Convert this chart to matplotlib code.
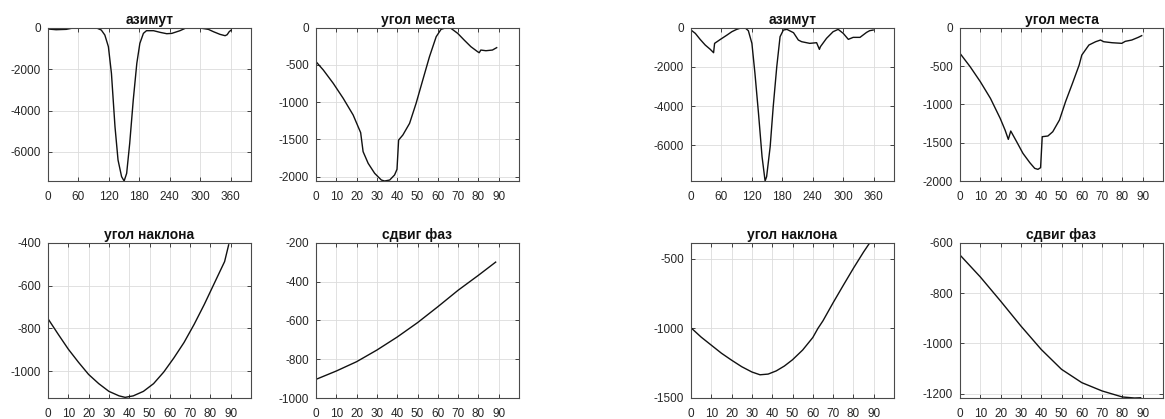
import numpy as np
import matplotlib.pyplot as plt

# data
az_x_left = [0, 16, 36, 49, 76, 96, 105, 112, 119, 125, 132, 138, 145, 150, 155, 161, 168, 175,
             181, 188, 194, 208, 221, 234, 244, 260, 273, 287, 300, 316, 326, 339, 349, 353, 357, 361]
az_y_left = [-64, -97, -80, -16, 0, -16, -113, -354, -917, -2204, -4779, -6388, -7190, -7400, -7030,
             -5583, -3490, -1720, -756, -273, -145, -145, -225, -290, -274, -145, 0, 0, -16, -80,
             -193, -322, -386, -338, -193, -113]

el_x_left = [0, 3.6, 8.5, 13.4, 18.3, 22, 23.2, 25.7, 28.9, 32.2, 33.8, 36.3, 38.7, 39.9, 40.7, 42.8,
             46.1, 49.3, 52.6, 55.9, 59.2, 61.6, 64.1, 66.5, 69.8, 73, 76.3, 79.6, 80.4, 81.2, 83.7,
             86.9, 89]
el_y_left = [-456, -568, -747, -948, -1172, -1409, -1664, -1821, -1955, -2045, -2058, -2045, -1977,
             -1901, -1508, -1440, -1284, -1016, -702, -389, -121, -22, 0, -9, -76, -166, -255, -322,
             -336, -300, -309, -300, -268]

tilt_x_left = [0, 5, 10, 15, 20, 25, 30, 35, 38, 42, 47, 52, 57, 62, 67, 72, 77, 82, 87, 89]
tilt_y_left = [-755, -827, -897, -958, -1015, -1058, -1094, -1115, -1122, -1115, -1094, -1058, -1004,
               -938, -866, -781, -688, -588, -488, -410]

ph_x_left = [0, 10, 20, 30, 40, 50, 60, 70, 80, 88.5]
ph_y_left = [-904, -861, -813, -753, -686, -612, -530, -445, -368, -300]

az_x_right = [0, 8.5, 18, 28, 38, 44.5, 46.5, 58, 71, 80.5, 90, 100, 107, 113, 120, 126, 133, 140,
              146, 149, 156, 162, 169, 175.5, 182, 189, 202, 211.5, 218, 234, 247.5, 253, 255, 267,
              280, 290, 300, 310, 319.5, 333, 346, 352, 359]
az_y_right = [-119, -289, -595, -884, -1105, -1275, -799, -595, -374, -204, -85, 0, -17, -153, -799,
              -2329, -4369, -6579, -7820, -7599, -6069, -4029, -1989, -459, -119, -85, -255, -629,
              -714, -799, -765, -1105, -969, -544, -204, -85, -289, -595, -493, -493, -238, -153, -119]

el_x_right = [0, 5, 10, 15, 19.8, 22.2, 23.8, 25, 27.9, 31, 34.4, 36.8, 38.4, 39.7, 40.5, 43.3, 45.7,
              49, 52, 55.4, 58.7, 60, 63.5, 66.8, 69.2, 70.8, 74.9, 79.7, 81.4, 84.6, 87.8, 89.5]
el_y_right = [-335, -509, -704, -922, -1183, -1335, -1457, -1348, -1487, -1639, -1761, -1835, -1848,
              -1826, -1422, -1413, -1357, -1204, -965, -726, -487, -357, -226, -183, -161, -183, -196,
              -204, -178, -161, -126, -104]

tilt_x_right = [0, 5, 10, 15, 20, 25, 30, 34, 38, 42, 46, 50, 55, 60, 62.5, 65, 70, 75, 80, 85, 88]
tilt_y_right = [-995, -1062, -1120, -1178, -1228, -1275, -1313, -1333, -1328, -1305, -1270, -1225,
                -1155, -1065, -1000, -945, -815, -690, -567, -450, -385]

ph_x_right = [0, 10, 20, 30, 40, 50, 60, 70, 80, 86, 89]
ph_y_right = [-649, -736, -832, -931, -1024, -1103, -1156, -1189, -1213, -1217, -1216]

titles = ['азимут', 'угол места', 'угол наклона', 'сдвиг фаз']
az_ticks = [0, 60, 120, 180, 240, 300, 360]
ang_ticks = [0, 10, 20, 30, 40, 50, 60, 70, 80, 90]

plt.rcParams['font.family'] = ['Liberation Sans', 'DejaVu Sans']
plt.rcParams['axes.unicode_minus'] = False

fig = plt.figure(figsize=(11.65, 4.19), dpi=100)

W, H = 1165.0, 419.0
lefts = [48, 316, 691, 960]
width = 203
top_row = (27.7, 181)
bot_row = (242.7, 398)


def make_ax(left, row):
    t, b = row
    return fig.add_axes([left / W, 1 - b / H, width / W, (b - t) / H])


def style(ax, title, xticks, xlim, yticks, ylim):
    ax.set_xlim(xlim)
    ax.set_ylim(ylim)
    ax.set_xticks(xticks)
    ax.set_yticks(yticks)
    ax.grid(True, color='#dcdcdc', linewidth=0.6)
    ax.set_axisbelow(True)
    ax.tick_params(direction='in', length=3, width=0.6, top=True, right=True,
                   labelsize=8.5, colors='#262626', pad=5)
    ax.tick_params(axis='x', pad=7)
    for s in ax.spines.values():
        s.set_color('#4a4a4a')
        s.set_linewidth(0.8)
    ax.set_title(title, fontsize=10, fontweight='bold', pad=3, color='#111111')


panels = [
    (lefts[0], top_row, az_x_left, az_y_left, titles[0], az_ticks, (0, 400), [-6000, -4000, -2000, 0], (-7400, 0)),
    (lefts[1], top_row, el_x_left, el_y_left, titles[1], ang_ticks, (0, 100), [-2000, -1500, -1000, -500, 0], (-2058, 0)),
    (lefts[0], bot_row, tilt_x_left, tilt_y_left, titles[2], ang_ticks, (0, 100), [-1000, -800, -600, -400], (-1125, -400)),
    (lefts[1], bot_row, ph_x_left, ph_y_left, titles[3], ang_ticks, (0, 100), [-1000, -800, -600, -400, -200], (-1000, -200)),
    (lefts[2], top_row, az_x_right, az_y_right, titles[0], az_ticks, (0, 400), [-6000, -4000, -2000, 0], (-7820, 0)),
    (lefts[3], top_row, el_x_right, el_y_right, titles[1], ang_ticks, (0, 100), [-2000, -1500, -1000, -500, 0], (-2000, 0)),
    (lefts[2], bot_row, tilt_x_right, tilt_y_right, titles[2], ang_ticks, (0, 100), [-1500, -1000, -500], (-1500, -383)),
    (lefts[3], bot_row, ph_x_right, ph_y_right, titles[3], ang_ticks, (0, 100), [-1200, -1000, -800, -600], (-1217, -600)),
]

for left, row, xs, ys, title, xt, xl, yt, yl in panels:
    ax = make_ax(left, row)
    ax.plot(xs, ys, color='#111111', linewidth=1.0)
    style(ax, title, xt, xl, yt, yl)

fig.savefig('out.png', dpi=100, facecolor='white')
